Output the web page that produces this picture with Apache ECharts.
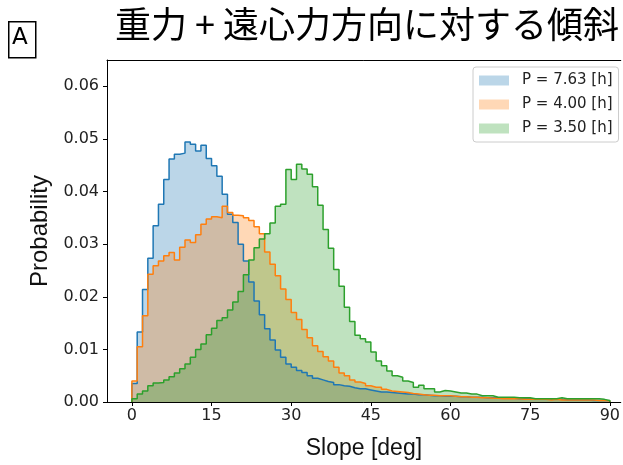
<!DOCTYPE html>
<html><head><meta charset="utf-8">
<script src="https://cdn.jsdelivr.net/npm/echarts@6/dist/echarts.min.js"></script>
<style>html,body{margin:0;padding:0;background:#fff}#c{width:623px;height:465px}</style>
</head><body><div id="c"></div>
<script>
const titleText = '重力 + 遠心力方向に対する傾斜';
const panelLabel = 'A';
const xTitle = 'Slope [deg]';
const yTitle = 'Probability';
const seriesNames = ['P = 7.63 [h]', 'P = 4.00 [h]', 'P = 3.50 [h]'];
const binWidth = 1;
const binLefts = Array.from({length: 90}, (_, i) => i * binWidth);
const xTicks = [0, 15, 30, 45, 60, 75, 90];
const yTicks = [0, 0.01, 0.02, 0.03, 0.04, 0.05, 0.06];

const probP763 = [
0.0035,0.0133,0.0214,0.0273,0.0335,0.0376,0.0423,0.0462,0.0471,0.0473,
0.0494,0.0490,0.0477,0.0488,0.0463,0.0449,0.0429,0.0395,0.0357,0.0341,
0.0300,0.0268,0.0228,0.0192,0.0166,0.0139,0.0118,0.0099,0.0085,0.0072,
0.0066,0.0060,0.0056,0.0050,0.0045,0.0042,0.0039,0.0037,0.0033,0.0031,
0.0030,0.0027,0.0025,0.0025,0.0023,0.0021,0.0019,0.0019,0.0018,0.0017,
0.0016,0.0015,0.0015,0.0014,0.0014,0.0013,0.0012,0.0012,0.0011,0.0011,
0.0011,0.0010,0.0010,0.0009,0.0009,0.0009,0.0008,0.0008,0.0008,0.0008,
0.0007,0.0007,0.0006,0.0006,0.0006,0.0006,0.0005,0.0005,0.0005,0.0005,
0.0005,0.0004,0.0004,0.0004,0.0004,0.0004,0.0003,0.0003,0.0003,0.0002];

const probP400 = [
0.0040,0.0105,0.0164,0.0243,0.0259,0.0268,0.0278,0.0284,0.0270,0.0294,
0.0308,0.0303,0.0318,0.0338,0.0348,0.0352,0.0350,0.0372,0.0360,0.0355,
0.0354,0.0350,0.0345,0.0333,0.0320,0.0285,0.0262,0.0240,0.0215,0.0195,
0.0170,0.0157,0.0138,0.0122,0.0107,0.0096,0.0086,0.0078,0.0066,0.0055,
0.0050,0.0042,0.0038,0.0035,0.0031,0.0028,0.0028,0.0024,0.0021,0.0020,
0.0019,0.0018,0.0016,0.0015,0.0014,0.0013,0.0013,0.0012,0.0012,0.0012,
0.0011,0.0010,0.0010,0.0009,0.0009,0.0008,0.0008,0.0007,0.0007,0.0006,
0.0006,0.0006,0.0006,0.0005,0.0005,0.0005,0.0005,0.0005,0.0004,0.0005,
0.0004,0.0004,0.0004,0.0004,0.0004,0.0004,0.0004,0.0003,0.0003,0.0002];

const probP350 = [
0.0006,0.0015,0.0021,0.0031,0.0036,0.0037,0.0042,0.0048,0.0055,0.0063,
0.0072,0.0085,0.0100,0.0110,0.0128,0.0140,0.0155,0.0160,0.0175,0.0190,
0.0210,0.0242,0.0270,0.0293,0.0310,0.0320,0.0340,0.0372,0.0376,0.0442,
0.0423,0.0452,0.0443,0.0433,0.0409,0.0374,0.0328,0.0292,0.0252,0.0220,
0.0180,0.0153,0.0127,0.0120,0.0114,0.0095,0.0078,0.0069,0.0059,0.0050,
0.0047,0.0040,0.0037,0.0028,0.0032,0.0025,0.0025,0.0019,0.0022,0.0021,
0.0019,0.0017,0.0017,0.0015,0.0015,0.0012,0.0012,0.0012,0.0009,0.0009,
0.0009,0.0009,0.0008,0.0008,0.0008,0.0006,0.0006,0.0006,0.0006,0.0006,
0.0008,0.0006,0.0006,0.0006,0.0006,0.0006,0.0006,0.0006,0.0005,0.0003];

const lineColors = ['#1f77b4', '#ff7f0e', '#2ca02c'];
const fillColors = ['rgba(31,119,180,0.3)', 'rgba(255,127,14,0.3)', 'rgba(44,160,44,0.3)'];
const allValues = [probP763, probP400, probP350];

function stepData(vals) {
  const pts = [[binLefts[0], 0]];
  vals.forEach((v, i) => pts.push([binLefts[i], v]));
  pts.push([binLefts[vals.length - 1] + binWidth, 0]);
  return pts;
}

const font = 'DejaVu Sans';
const labelFont = 'Liberation Sans';
const chart = echarts.init(document.getElementById('c'), null, {renderer: 'canvas'});
chart.setOption({
  animation: false,
  backgroundColor: '#fff',
  title: {
    text: titleText, left: 110, top: 1,
    textStyle: {fontFamily: 'Noto Sans CJK JP', fontSize: 36, fontWeight: 'normal', color: '#000'}
  },
  graphic: [
    {type: 'rect', left: 8, top: 21, shape: {width: 27, height: 36},
     style: {fill: '#fff', stroke: '#000', lineWidth: 1.5}},
    {type: 'text', left: 12, top: 27,
     style: {text: panelLabel, font: '23px "DejaVu Sans"', fill: '#000'}}
  ],
  legend: {
    orient: 'vertical', left: 473, top: 67,
    padding: [6, 6, 6, 6], itemWidth: 30, itemHeight: 10, itemGap: 9,
    backgroundColor: 'rgba(255,255,255,0.85)', borderColor: '#ccc', borderWidth: 1, borderRadius: 3,
    icon: 'rect',
    itemStyle: {borderWidth: 0},
    textStyle: {fontFamily: font, fontSize: 15, lineHeight: 15, color: '#222', padding: [0, 0, 0, 8]},
    data: seriesNames.map((n, i) => ({name: n, icon: 'rect', itemStyle: {color: fillColors[i], borderWidth: 0}}))
  },
  grid: {left: 107, top: 60, right: 0, bottom: 62, show: false},
  xAxis: [{
    type: 'value', min: -4.6875, max: 92.06,
    name: xTitle, nameLocation: 'middle', nameGap: 35,
    nameTextStyle: {fontFamily: labelFont, fontSize: 23, color: '#111'},
    axisLine: {show: true, onZero: false, lineStyle: {color: '#000', width: 1}},
    axisTick: {show: true, length: 4, lineStyle: {color: '#000'}, customValues: xTicks},
    axisLabel: {fontFamily: font, fontSize: 16, color: '#222', margin: 6, customValues: xTicks},
    splitLine: {show: false}
  }, {
    type: 'value', position: 'top', min: -4.6875, max: 92.06,
    axisLine: {show: true, onZero: false, lineStyle: {color: '#000', width: 1}},
    axisTick: {show: false}, axisLabel: {show: false}, splitLine: {show: false}
  }],
  yAxis: {
    type: 'value', min: 0, max: 0.065,
    name: yTitle, nameLocation: 'middle', nameGap: 50,
    nameTextStyle: {fontFamily: labelFont, fontSize: 24, color: '#111'},
    axisLine: {show: true, onZero: false, lineStyle: {color: '#000', width: 1}},
    axisTick: {show: true, length: 4, lineStyle: {color: '#000'}, customValues: yTicks},
    axisLabel: {fontFamily: font, fontSize: 16, color: '#222', margin: 8, customValues: yTicks,
      formatter: v => v.toFixed(2)},
    splitLine: {show: false}
  },
  series: allValues.map((vals, i) => ({
    type: 'line', name: seriesNames[i], data: stepData(vals), step: 'end',
    xAxisIndex: 0,
    symbol: 'none', showSymbol: false,
    lineStyle: {color: lineColors[i], width: 1.5},
    itemStyle: {color: lineColors[i]},
    areaStyle: {color: fillColors[i], opacity: 1}
  }))
});
</script>
</body></html>
